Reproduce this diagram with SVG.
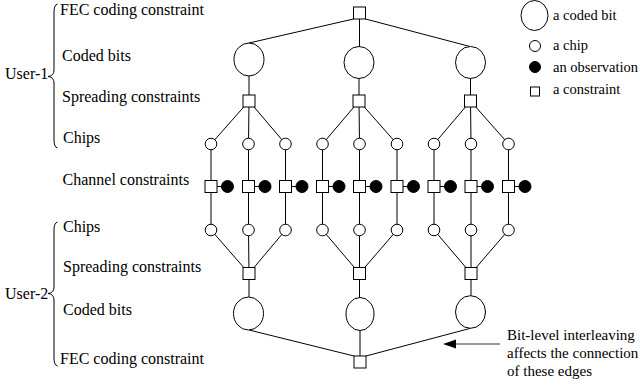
<svg xmlns="http://www.w3.org/2000/svg" width="640" height="387" viewBox="0 0 640 387">
<style>
.t{font-family:"Liberation Serif","Times New Roman",serif;font-size:16px;fill:#000}
.l{font-family:"Liberation Serif","Times New Roman",serif;font-size:14.5px;fill:#000}
.r{font-family:"Liberation Serif","Times New Roman",serif;font-size:15px;fill:#000}
.e{stroke:#000;stroke-width:1;fill:none}
.n{fill:#fff;stroke:#000;stroke-width:1}
.o{fill:#000;stroke:#000;stroke-width:1}
</style>
<defs>
<rect id="sq" x="-6" y="-6" width="12" height="12" class="n"/>
<circle id="ch" r="5.8" class="n"/>
<circle id="ob" r="6" class="o"/>
</defs>
<rect width="640" height="387" fill="#fff"/>

<g id="labels">
<text class="t" x="60" y="15">FEC coding constraint</text>
<text class="t" x="62" y="61">Coded bits</text>
<text class="t" x="62" y="102">Spreading constraints</text>
<text class="t" x="63" y="143">Chips</text>
<text class="t" x="62.5" y="184.5">Channel constraints</text>
<text class="t" x="5" y="78.5">User-1</text>
<text class="t" x="63" y="232">Chips</text>
<text class="t" x="63" y="272">Spreading constraints</text>
<text class="t" x="5" y="298.5">User-2</text>
<text class="t" x="63" y="315">Coded bits</text>
<text class="t" x="60" y="364">FEC coding constraint</text>
<path class="e" d="M57.5,4 Q54,5 54,12 L54,70 Q54,76 48,76.5 Q54,77 54,83 L54,140 Q54,147 57.5,148"/>
<path class="e" d="M57.5,222 Q54,223 54,230 L54,287 Q54,293 48,293.5 Q54,294 54,300 L54,358 Q54,365 57.5,366"/>
</g>

<g id="connectors" class="e">
<!-- top FEC to coded bits -->
<path d="M353.5,19 L249,43 M359.5,19 L359.5,46.5 M365.5,19 L470,46.5"/>
<!-- coded bits to spreading -->
<path d="M249,76 L249,95 M359,78.5 L359,95 M470.5,78.5 L470.5,95"/>
<!-- spreading to upper chips -->
<path d="M249,101 L211,144 M249,101 L248.5,144 M249,101 L285.5,144"/>
<path d="M359,101 L322.5,144 M359,101 L359.5,144 M359,101 L397,144"/>
<path d="M470.5,101 L434,144 M470.5,101 L471,144 M470.5,101 L508.5,144"/>
<!-- chips through channel constraints -->
<path d="M211,144 L211,230 M248.5,144 L248.5,230 M285.5,144 L285.5,230 M322.5,144 L322.5,230 M359.5,144 L359.5,230 M397,144 L397,230 M434,144 L434,230 M471,144 L471,230 M508.5,144 L508.5,230"/>
<!-- channel to observations -->
<path d="M211,186.5 h16.5 M248.5,186.5 h16.5 M285.5,186.5 h16.5 M322.5,186.5 h16.5 M359.5,186.5 h16.5 M397,186.5 h16.5 M434,186.5 h16.5 M471,186.5 h16.5 M508.5,186.5 h16.5"/>
<!-- lower chips to spreading -->
<path d="M211,230 L249,273.5 M248.5,230 L249,273.5 M285.5,230 L249,273.5"/>
<path d="M322.5,230 L359.5,273.5 M359.5,230 L359.5,273.5 M397,230 L359.5,273.5"/>
<path d="M434,230 L471,273.5 M471,230 L471,273.5 M508.5,230 L471,273.5"/>
<!-- spreading to lower coded bits -->
<path d="M249,279.5 L249,297 M359.5,279.5 L359.5,297.5 M471,279.5 L471,296"/>
<!-- lower coded bits to FEC -->
<path d="M249,330 L354,356 M360,330.5 L360,356 M470.5,328.3 L366,356"/>
</g>

<g id="top-fec"><use href="#sq" x="359.5" y="13"/></g>
<g id="coded-bit-1-1"><ellipse cx="249" cy="59.5" rx="15" ry="16.5" class="n"/></g>
<g id="coded-bit-1-2"><ellipse cx="359" cy="62.5" rx="15" ry="16" class="n"/></g>
<g id="coded-bit-1-3"><ellipse cx="470.5" cy="62.5" rx="15" ry="16" class="n"/></g>
<g id="spread-1-1"><use href="#sq" x="249" y="101"/></g>
<g id="spread-1-2"><use href="#sq" x="359" y="101"/></g>
<g id="spread-1-3"><use href="#sq" x="470.5" y="101"/></g>

<g id="chips-upper">
<use href="#ch" x="211" y="144"/><use href="#ch" x="248.5" y="144"/><use href="#ch" x="285.5" y="144"/>
<use href="#ch" x="322.5" y="144"/><use href="#ch" x="359.5" y="144"/><use href="#ch" x="397" y="144"/>
<use href="#ch" x="434" y="144"/><use href="#ch" x="471" y="144"/><use href="#ch" x="508.5" y="144"/>
</g>
<g id="channel-constraints">
<use href="#sq" x="211" y="186.5"/><use href="#sq" x="248.5" y="186.5"/><use href="#sq" x="285.5" y="186.5"/>
<use href="#sq" x="322.5" y="186.5"/><use href="#sq" x="359.5" y="186.5"/><use href="#sq" x="397" y="186.5"/>
<use href="#sq" x="434" y="186.5"/><use href="#sq" x="471" y="186.5"/><use href="#sq" x="508.5" y="186.5"/>
</g>
<g id="observations">
<use href="#ob" x="227.5" y="186.5"/><use href="#ob" x="265" y="186.5"/><use href="#ob" x="302" y="186.5"/>
<use href="#ob" x="339" y="186.5"/><use href="#ob" x="376" y="186.5"/><use href="#ob" x="413.5" y="186.5"/>
<use href="#ob" x="450.5" y="186.5"/><use href="#ob" x="487.5" y="186.5"/><use href="#ob" x="525" y="186.5"/>
</g>
<g id="chips-lower">
<use href="#ch" x="211" y="230"/><use href="#ch" x="248.5" y="230"/><use href="#ch" x="285.5" y="230"/>
<use href="#ch" x="322.5" y="230"/><use href="#ch" x="359.5" y="230"/><use href="#ch" x="397" y="230"/>
<use href="#ch" x="434" y="230"/><use href="#ch" x="471" y="230"/><use href="#ch" x="508.5" y="230"/>
</g>
<g id="spread-2-1"><use href="#sq" x="249" y="273.5"/></g>
<g id="spread-2-2"><use href="#sq" x="359.5" y="273.5"/></g>
<g id="spread-2-3"><use href="#sq" x="471" y="273.5"/></g>
<g id="coded-bit-2-1"><ellipse cx="248.5" cy="313.5" rx="15" ry="16.5" class="n"/></g>
<g id="coded-bit-2-2"><ellipse cx="360" cy="314" rx="14" ry="16.5" class="n"/></g>
<g id="coded-bit-2-3"><ellipse cx="470.5" cy="312" rx="15" ry="16.3" class="n"/></g>
<g id="bottom-fec"><use href="#sq" x="360" y="362"/></g>

<g id="legend">
<ellipse cx="534.5" cy="15.5" rx="13.5" ry="15" class="n"/>
<text class="l" x="553" y="20">a coded bit</text>
<circle cx="535" cy="46" r="5.5" class="n"/>
<text class="l" x="553" y="50">a chip</text>
<circle cx="535" cy="67" r="5.5" class="o"/>
<text class="l" x="553" y="71.5">an observation</text>
<rect x="530.5" y="87" width="9" height="9" class="n"/>
<text class="l" x="553" y="94">a constraint</text>
</g>

<g id="annotation">
<line x1="500" y1="344" x2="454" y2="344" stroke="#333" stroke-width="1.2"/>
<polygon points="443,344 456,339.5 456,348.5" fill="#000"/>
<text class="r" x="507" y="340">Bit-level interleaving</text>
<text class="r" x="507" y="358">affects the connection</text>
<text class="r" x="507" y="376">of these edges</text>
</g>
</svg>
